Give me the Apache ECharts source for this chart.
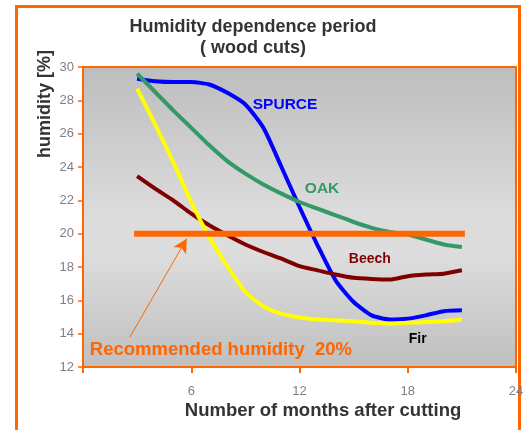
<!DOCTYPE html>
<html>
<head>
<meta charset="utf-8">
<script src="https://cdn.jsdelivr.net/npm/echarts@6/dist/echarts.min.js"></script>
<style>
  html, body { margin: 0; padding: 0; background: #ffffff; }
  #chart { width: 531px; height: 430px; }
</style>
</head>
<body>
<div id="chart"></div>
<script>
// Months after cutting
const months = [3, 4, 5, 6, 7, 8, 9, 10, 11, 12, 13, 14, 15, 16, 17, 18, 19, 20, 21];

// Humidity [%] per wood species
const spurce = [29.3, 29.15, 29.1, 29.1, 28.95, 28.45, 27.75, 26.35, 24.0, 21.6, 19.3, 17.2, 15.9, 15.1, 14.85, 14.9, 15.1, 15.35, 15.4];
const oak    = [29.6, 28.5, 27.4, 26.35, 25.3, 24.35, 23.6, 22.95, 22.4, 21.9, 21.5, 21.1, 20.7, 20.35, 20.1, 19.95, 19.65, 19.35, 19.2];
const beech  = [23.45, 22.7, 22.0, 21.2, 20.5, 19.9, 19.35, 18.9, 18.5, 18.05, 17.8, 17.55, 17.35, 17.28, 17.25, 17.45, 17.55, 17.6, 17.8];
const fir    = [28.7, 26.55, 24.3, 21.9, 19.8, 18.05, 16.5, 15.65, 15.2, 14.97, 14.85, 14.8, 14.75, 14.65, 14.6, 14.65, 14.7, 14.75, 14.85];

// Recommended humidity level and the months it spans
const recommended = 20;
const recommendedSpan = [3, 21];

// Axis ranges
const xTicks = [0, 6, 12, 18, 24];
const yRange = [12, 30];

const FONT = '"Liberation Sans", Arial, sans-serif';
const ORANGE = '#FF6600';

const pairs = (vals) => months.map((m, i) => [m, vals[i]]);

function lineSeries(name, vals, color, labelColor, labelSize, labelAt) {
  return {
    name: name,
    type: 'line',
    data: pairs(vals),
    showSymbol: false,
    smooth: 0.2,
    lineStyle: { color: color, width: 4 },
    z: 3,
    markPoint: {
      symbol: 'circle',
      symbolSize: 0,
      silent: true,
      data: [{
        coord: labelAt,
        label: {
          show: true, position: 'inside', formatter: name,
          color: labelColor, fontFamily: FONT, fontWeight: 'bold', fontSize: labelSize
        }
      }]
    }
  };
}

const chart = echarts.init(document.getElementById('chart'), null, { renderer: 'canvas' });

chart.setOption({
  animation: false,
  backgroundColor: '#ffffff',
  grid: {
    left: 83, right: 15, top: 67, bottom: 63,
    show: true,
    borderColor: ORANGE,
    borderWidth: 2,
    backgroundColor: {
      type: 'linear', x: 0, y: 0, x2: 0, y2: 1,
      colorStops: [
        { offset: 0, color: '#bdbdbd' },
        { offset: 0.5, color: '#dcdcdc' },
        { offset: 0.62, color: '#dddddd' },
        { offset: 1, color: '#bfbfbf' }
      ]
    }
  },
  xAxis: {
    type: 'value',
    min: xTicks[0], max: xTicks[xTicks.length - 1], interval: 6,
    axisLine: { show: true, lineStyle: { color: ORANGE, width: 2 } },
    axisTick: { show: true, length: 6, lineStyle: { color: ORANGE, width: 2 } },
    splitLine: { show: false },
    axisLabel: {
      margin: 18, color: '#808080', fontFamily: FONT, fontSize: 13,
      formatter: (v) => (v === 0 ? '' : String(v))
    }
  },
  yAxis: {
    type: 'value',
    min: yRange[0], max: yRange[1], interval: 2,
    axisLine: { show: true, lineStyle: { color: ORANGE, width: 2 } },
    axisTick: { show: true, length: 5, lineStyle: { color: ORANGE, width: 1.5 } },
    splitLine: { show: false },
    axisLabel: { margin: 9, color: '#808080', fontFamily: FONT, fontSize: 13 }
  },
  series: [
    lineSeries('SPURCE', spurce, '#0000FF', '#0000FF', 15.5, [11.2, 27.75]),
    lineSeries('OAK', oak, '#339966', '#339966', 15.5, [13.25, 22.7]),
    lineSeries('Beech', beech, '#800000', '#800000', 14, [15.9, 18.5]),
    lineSeries('Fir', fir, '#FFFF00', '#000000', 14, [18.55, 13.7]),
    {
      name: 'Recommended humidity',
      type: 'line',
      data: recommendedSpan.map((m) => [m, recommended]),
      showSymbol: false,
      lineStyle: { color: ORANGE, width: 6, cap: 'square' },
      z: 4,
      markLine: {
        silent: true,
        symbol: ['none', 'arrow'],
        symbolSize: [11, 14],
        lineStyle: { color: ORANGE, width: 1, type: 'solid' },
        label: { show: false },
        data: [[{ coord: [2.6, 13.8] }, { coord: [5.75, 19.7] }]]
      },
      markPoint: {
        symbol: 'circle',
        symbolSize: 0,
        silent: true,
        data: [{
          coord: [0.38, 13.05],
          label: {
            show: true, position: 'right', distance: 0,
            formatter: 'Recommended humidity  20%',
            color: ORANGE, fontFamily: FONT, fontWeight: 'bold', fontSize: 18.5
          }
        }]
      }
    }
  ],
  graphic: [
    {
      type: 'rect', silent: true, z: -10,
      shape: { x: 16.5, y: 6.5, width: 503, height: 440 },
      style: { fill: 'none', stroke: ORANGE, lineWidth: 3 }
    },
    {
      type: 'text', x: 253, y: 17, silent: true,
      style: {
        text: 'Humidity dependence period\n( wood cuts)',
        textAlign: 'center', textVerticalAlign: 'top',
        fill: '#333333', fontFamily: FONT, fontWeight: 'bold', fontSize: 18, lineHeight: 21
      }
    },
    {
      type: 'text', x: 45, y: 104, rotation: Math.PI / 2, silent: true,
      style: {
        text: 'humidity [%]',
        textAlign: 'center', textVerticalAlign: 'middle',
        fill: '#333333', fontFamily: FONT, fontWeight: 'bold', fontSize: 18
      }
    },
    {
      type: 'text', x: 323, y: 411, silent: true,
      style: {
        text: 'Number of months after cutting',
        textAlign: 'center', textVerticalAlign: 'middle',
        fill: '#333333', fontFamily: FONT, fontWeight: 'bold', fontSize: 18.5
      }
    }
  ]
});
</script>
</body>
</html>
